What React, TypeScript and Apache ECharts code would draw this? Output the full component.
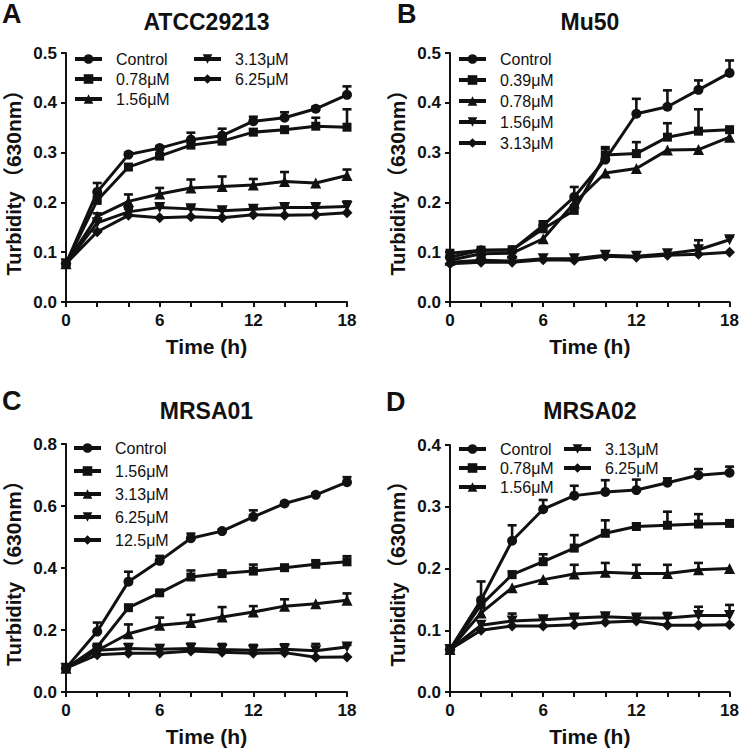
import React, { useEffect, useRef } from 'react';
import * as echarts from 'echarts';

// ---------- data ----------
const timeHours = [0, 2, 4, 6, 8, 10, 12, 14, 16, 18];
const xLabelEvery = 6;

// Panel A : ATCC29213
const aTitle = 'ATCC29213';
const aNames = ['Control', '0.78μM', '1.56μM', '3.13μM', '6.25μM'];
const aControl = [0.077, 0.221, 0.296, 0.309, 0.326, 0.334, 0.363, 0.37, 0.388, 0.416];
const aControlErr = [0, 0.018, 0.004, 0.004, 0.014, 0.014, 0.009, 0.011, 0.004, 0.017];
const a078 = [0.077, 0.204, 0.271, 0.293, 0.315, 0.323, 0.341, 0.346, 0.353, 0.351];
const a078Err = [0, 0.008, 0.004, 0.004, 0.008, 0.008, 0.006, 0.004, 0.017, 0.036];
const a156 = [0.077, 0.172, 0.202, 0.217, 0.229, 0.232, 0.235, 0.242, 0.239, 0.254];
const a156Err = [0, 0.006, 0.014, 0.012, 0.017, 0.02, 0.012, 0.019, 0, 0.012];
const a313 = [0.077, 0.159, 0.181, 0.19, 0.187, 0.183, 0.186, 0.19, 0.19, 0.192];
const a313Err = [0, 0.005, 0.006, 0.004, 0.005, 0.005, 0.004, 0.006, 0.007, 0.01];
const a625 = [0.077, 0.141, 0.174, 0.169, 0.171, 0.169, 0.175, 0.174, 0.175, 0.179];
const a625Err = [0, 0, 0, 0, 0, 0, 0, 0, 0, 0];

// Panel B : Mu50
const bTitle = 'Mu50';
const bNames = ['Control', '0.39μM', '0.78μM', '1.56μM', '3.13μM'];
const bControl = [0.09, 0.104, 0.104, 0.154, 0.211, 0.286, 0.378, 0.392, 0.426, 0.46];
const bControlErr = [0, 0, 0, 0.008, 0.02, 0.025, 0.03, 0.033, 0.019, 0.025];
const b039 = [0.098, 0.104, 0.105, 0.147, 0.184, 0.295, 0.298, 0.331, 0.343, 0.346];
const b039Err = [0, 0, 0, 0.015, 0.01, 0.012, 0.023, 0.028, 0.044, 0];
const b078 = [0.084, 0.097, 0.098, 0.127, 0.199, 0.259, 0.268, 0.305, 0.306, 0.331];
const b078Err = [0, 0, 0, 0, 0, 0, 0, 0, 0, 0];
const b156 = [0.08, 0.084, 0.082, 0.087, 0.087, 0.094, 0.092, 0.097, 0.105, 0.125];
const b156Err = [0, 0, 0, 0, 0, 0, 0, 0, 0.019, 0.006];
const b313 = [0.077, 0.08, 0.08, 0.085, 0.084, 0.092, 0.09, 0.094, 0.096, 0.1];
const b313Err = [0, 0, 0, 0, 0, 0, 0, 0, 0, 0];

// Panel C : MRSA01
const cTitle = 'MRSA01';
const cNames = ['Control', '1.56μM', '3.13μM', '6.25μM', '12.5μM'];
const cControl = [0.077, 0.195, 0.356, 0.423, 0.496, 0.519, 0.565, 0.608, 0.636, 0.677];
const cControlErr = [0, 0.029, 0.032, 0.016, 0.015, 0.005, 0.021, 0.005, 0.005, 0.016];
const c156 = [0.077, 0.145, 0.272, 0.32, 0.371, 0.382, 0.39, 0.401, 0.412, 0.42];
const c156Err = [0, 0.009, 0.005, 0.005, 0.021, 0.008, 0.021, 0.005, 0.013, 0.018];
const c313 = [0.077, 0.134, 0.188, 0.215, 0.224, 0.242, 0.258, 0.277, 0.285, 0.296];
const c313Err = [0, 0, 0.03, 0.025, 0.025, 0.032, 0.019, 0.022, 0, 0.022];
const c625 = [0.077, 0.135, 0.14, 0.138, 0.14, 0.137, 0.135, 0.138, 0.133, 0.145];
const c625Err = [0, 0.008, 0.015, 0.013, 0.016, 0.018, 0.017, 0.016, 0.022, 0.007];
const c125 = [0.077, 0.12, 0.125, 0.125, 0.132, 0.128, 0.125, 0.127, 0.112, 0.113];
const c125Err = [0, 0, 0, 0, 0, 0, 0, 0, 0, 0];

// Panel D : MRSA02
const dTitle = 'MRSA02';
const dNames = ['Control', '0.78μM', '1.56μM', '3.13μM', '6.25μM'];
const dControl = [0.069, 0.149, 0.245, 0.296, 0.318, 0.324, 0.327, 0.339, 0.351, 0.355];
const dControlErr = [0, 0.03, 0.025, 0.015, 0.016, 0.019, 0.017, 0.007, 0.01, 0.01];
const d078 = [0.069, 0.141, 0.19, 0.211, 0.233, 0.257, 0.268, 0.27, 0.272, 0.273];
const d078Err = [0, 0, 0.005, 0.012, 0.021, 0.021, 0.005, 0.022, 0.016, 0.005];
const d156 = [0.069, 0.128, 0.169, 0.182, 0.191, 0.194, 0.192, 0.192, 0.198, 0.2];
const d156Err = [0, 0, 0, 0, 0.015, 0.015, 0.014, 0.014, 0.011, 0];
const d313 = [0.069, 0.108, 0.115, 0.117, 0.12, 0.122, 0.12, 0.12, 0.124, 0.124];
const d313Err = [0, 0, 0.012, 0.004, 0.004, 0.004, 0.005, 0.008, 0.014, 0.017];
const d625 = [0.069, 0.1, 0.107, 0.107, 0.109, 0.113, 0.115, 0.108, 0.108, 0.109];
const d625Err = [0, 0, 0, 0, 0, 0, 0, 0, 0, 0];

// ---------- styling / layout ----------
const FONT = "'Liberation Sans', Arial, Helvetica, sans-serif";
const INK = '#111111';
const SYMBOLS = ['circle', 'rect', 'triangle', 'path://M0,0L10,0L5,9Z', 'diamond'];
const SYMBOL_SIZES = [10, 9, 11, 11, 11];

const panels = [
  {
    key: 'A', letter: 'A', title: aTitle, names: aNames,
    values: [aControl, a078, a156, a313, a625],
    errs: [aControlErr, a078Err, a156Err, a313Err, a625Err],
    yMax: 0.5, yInterval: 0.1,
    grid: { left: 66, top: 53, width: 281, height: 249 },
    legendCols: [[0, 1, 2], [3, 4]], legendLefts: [73, 192], legendTop: 51, legendGap: 4,
    letterPos: [2, 14], titleY: 22,
  },
  {
    key: 'B', letter: 'B', title: bTitle, names: bNames,
    values: [bControl, b039, b078, b156, b313],
    errs: [bControlErr, b039Err, b078Err, b156Err, b313Err],
    yMax: 0.5, yInterval: 0.1,
    grid: { left: 450, top: 53, width: 280, height: 249 },
    legendCols: [[0, 1, 2, 3, 4]], legendLefts: [457], legendTop: 51, legendGap: 5,
    letterPos: [397, 14], titleY: 22,
  },
  {
    key: 'C', letter: 'C', title: cTitle, names: cNames,
    values: [cControl, c156, c313, c625, c125],
    errs: [cControlErr, c156Err, c313Err, c625Err, c125Err],
    yMax: 0.8, yInterval: 0.2,
    grid: { left: 66, top: 444, width: 281, height: 248 },
    legendCols: [[0, 1, 2, 3, 4]], legendLefts: [72], legendTop: 440, legendGap: 7,
    letterPos: [2, 401], titleY: 411,
  },
  {
    key: 'D', letter: 'D', title: dTitle, names: dNames,
    values: [dControl, d078, d156, d313, d625],
    errs: [dControlErr, d078Err, d156Err, d313Err, d625Err],
    yMax: 0.4, yInterval: 0.1,
    grid: { left: 450, top: 445, width: 280, height: 247 },
    legendCols: [[0, 1, 2], [3, 4]], legendLefts: [457, 562], legendTop: 441, legendGap: 3,
    letterPos: [386, 402], titleY: 411,
  },
];

function buildOption() {
  const grid: any[] = [];
  const xAxis: any[] = [];
  const yAxis: any[] = [];
  const series: any[] = [];
  const legend: any[] = [];
  const graphic: any[] = [];

  panels.forEach((p, i) => {
    grid.push({ ...p.grid, containLabel: false });
    xAxis.push({
      type: 'value', gridIndex: i, min: 0, max: 18, interval: 2,
      axisLine: { show: true, onZero: false, lineStyle: { color: INK, width: 2 } },
      axisTick: { show: true, length: 5, lineStyle: { color: INK, width: 2 } },
      splitLine: { show: false },
      axisLabel: {
        formatter: (v: number) => (v % xLabelEvery === 0 ? String(v) : ''),
        fontSize: 17, fontWeight: 'bold', color: INK, fontFamily: FONT, margin: 10,
      },
      name: 'Time (h)', nameLocation: 'middle', nameGap: 34,
      nameTextStyle: { fontSize: 21, fontWeight: 'bold', color: INK, fontFamily: FONT },
    });
    yAxis.push({
      type: 'value', gridIndex: i, min: 0, max: p.yMax, interval: p.yInterval,
      axisLine: { show: true, onZero: false, lineStyle: { color: INK, width: 2 } },
      axisTick: { show: true, length: 5, lineStyle: { color: INK, width: 2 } },
      splitLine: { show: false },
      axisLabel: {
        formatter: (v: number) => v.toFixed(1),
        fontSize: 17, fontWeight: 'bold', color: INK, fontFamily: FONT, margin: 9,
      },
      name: '{a|Turbidity} {b|（630nm）}', nameLocation: 'middle', nameGap: 42,
      nameTextStyle: {
        color: INK, fontFamily: FONT,
        rich: {
          a: { fontSize: 20, fontWeight: 'bold', color: INK, fontFamily: FONT },
          b: { fontSize: 21, fontWeight: 'bold', color: INK, fontFamily: FONT + ", 'Noto Sans CJK SC'" },
        },
      },
    });

    const errData: number[][] = [];
    p.names.forEach((name, s) => {
      const vals = p.values[s];
      series.push({
        type: 'line', name: `${p.key}|${name}`,
        xAxisIndex: i, yAxisIndex: i,
        data: timeHours.map((t, k) => [t, vals[k]]),
        symbol: SYMBOLS[s], symbolSize: SYMBOL_SIZES[s],
        lineStyle: { color: INK, width: 3 },
        itemStyle: { color: INK, borderWidth: 0 },
        z: 3, clip: false,
      });
      p.errs[s].forEach((e, k) => {
        if (e > 0) errData.push([timeHours[k], vals[k], vals[k] + e]);
      });
    });
    series.push({
      type: 'custom', name: `${p.key}|err`, xAxisIndex: i, yAxisIndex: i,
      encode: { x: 0, y: [1, 2] },
      data: errData, z: 2,
      renderItem: (_params: any, api: any) => {
        const x = api.value(0);
        const p0 = api.coord([x, api.value(1)]);
        const p1 = api.coord([x, api.value(2)]);
        const hw = 4.5;
        const st = { stroke: INK, lineWidth: 2.6 };
        return {
          type: 'group',
          children: [
            { type: 'line', shape: { x1: p0[0], y1: p0[1], x2: p1[0], y2: p1[1] }, style: st },
            { type: 'line', shape: { x1: p1[0] - hw, y1: p1[1], x2: p1[0] + hw, y2: p1[1] }, style: st },
          ],
        };
      },
    });

    p.legendCols.forEach((col, c) => {
      legend.push({
        orient: 'vertical', left: p.legendLefts[c], top: p.legendTop,
        itemWidth: 27, itemHeight: 12, itemGap: p.legendGap, padding: 0,
        selectedMode: false,
        lineStyle: { width: 4 },
        data: col.map((idx) => `${p.key}|${p.names[idx]}`),
        formatter: (n: string) => n.split('|')[1],
        textStyle: { fontSize: 16, color: INK, fontFamily: FONT, padding: [0, 0, 0, 9] },
      });
    });

    graphic.push({
      type: 'text', x: p.grid.left + p.grid.width / 2, y: p.titleY,
      style: {
        text: p.title, font: `bold 23px ${FONT}`, fill: INK,
        align: 'center', verticalAlign: 'middle', textAlign: 'center', textVerticalAlign: 'middle',
      },
    });
    graphic.push({
      type: 'text', x: p.letterPos[0], y: p.letterPos[1],
      style: {
        text: p.letter, font: `bold 27px ${FONT}`, fill: INK,
        align: 'left', verticalAlign: 'middle', textAlign: 'left', textVerticalAlign: 'middle',
      },
    });
  });

  return {
    animation: false,
    backgroundColor: '#ffffff',
    textStyle: { fontFamily: FONT },
    grid, xAxis, yAxis, series, legend, graphic,
  };
}

export default function App() {
  const ref = useRef<HTMLDivElement>(null);
  useEffect(() => {
    if (!ref.current) return;
    const chart = echarts.init(ref.current, undefined, { renderer: 'svg' });
    chart.setOption(buildOption() as any);
    return () => chart.dispose();
  }, []);
  return (
    <div
      ref={ref}
      style={{ position: 'absolute', left: 0, top: 0, width: 742, height: 755, background: '#fff' }}
    />
  );
}
